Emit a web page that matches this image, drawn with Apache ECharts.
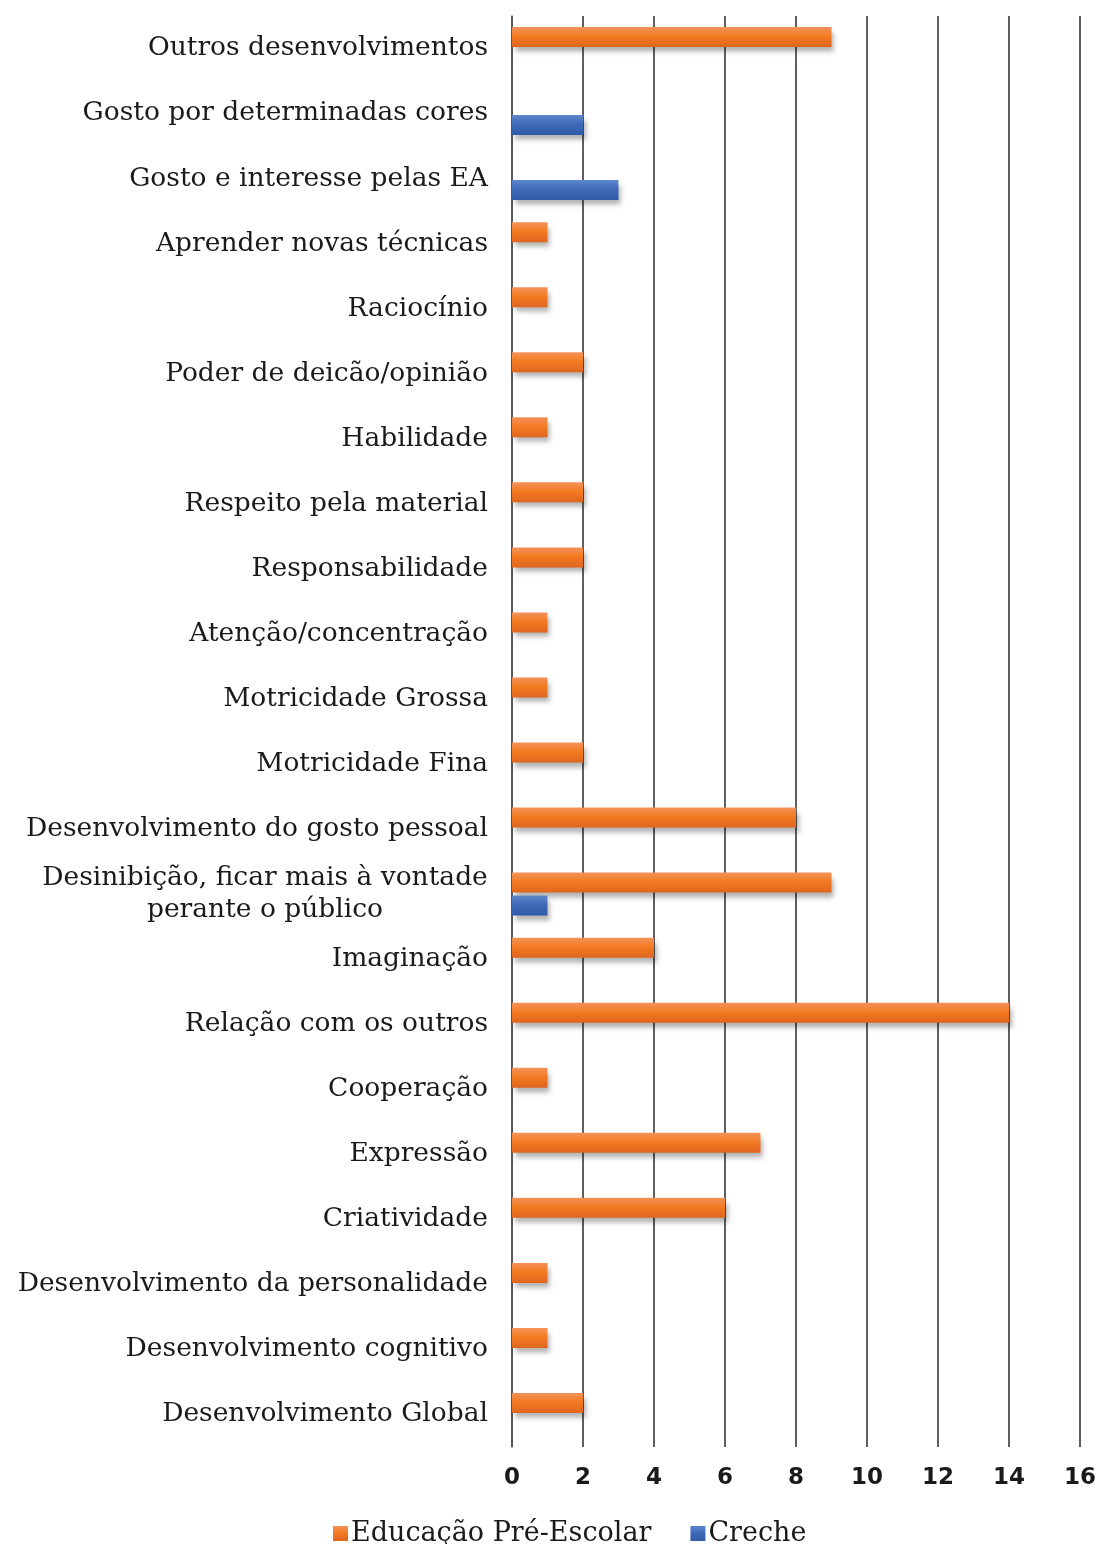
<!DOCTYPE html>
<html>
<head>
<meta charset="utf-8">
<script src="https://cdn.jsdelivr.net/npm/echarts@6/dist/echarts.min.js"></script>
<style>
  html, body { margin: 0; padding: 0; background: #fff; }
  #chart { width: 1099px; height: 1544px; }
</style>
</head>
<body>
<div id="chart"></div>
<script>
// categorias, de cima para baixo
var categorias = [
  'Outros desenvolvimentos',
  'Gosto por determinadas cores',
  'Gosto e interesse pelas EA',
  'Aprender novas técnicas',
  'Raciocínio',
  'Poder de deicão/opinião',
  'Habilidade',
  'Respeito pela material',
  'Responsabilidade',
  'Atenção/concentração',
  'Motricidade Grossa',
  'Motricidade Fina',
  'Desenvolvimento do gosto pessoal',
  'Desinibição, ficar mais à vontade\nperante o público',
  'Imaginação',
  'Relação com os outros',
  'Cooperação',
  'Expressão',
  'Criatividade',
  'Desenvolvimento da personalidade',
  'Desenvolvimento cognitivo',
  'Desenvolvimento Global'
];
var preEscolar = [9, '-', '-', 1, 1, 2, 1, 2, 2, 1, 1, 2, 8, 9, 4, 14, 1, 7, 6, 1, 1, 2];
var creche = ['-', 2, 3, '-', '-', '-', '-', '-', '-', '-', '-', '-', '-', 1, '-', '-', '-', '-', '-', '-', '-', '-'];
var ticksX = { min: 0, max: 16, interval: 2 };

var laranja = new echarts.graphic.LinearGradient(0, 0, 0, 1, [
  { offset: 0, color: '#F2925A' },
  { offset: 0.45, color: '#F47B22' },
  { offset: 1, color: '#DF651E' }
]);
var azul = new echarts.graphic.LinearGradient(0, 0, 0, 1, [
  { offset: 0, color: '#5E87CC' },
  { offset: 0.45, color: '#3F6AB8' },
  { offset: 1, color: '#2F5AA6' }
]);

var sombra = {
  shadowColor: 'rgba(0,0,0,0.3)',
  shadowBlur: 5,
  shadowOffsetX: 3,
  shadowOffsetY: 5
};

var myChart = echarts.init(document.getElementById('chart'));
var option = {
  animation: false,
  backgroundColor: '#fff',
  grid: { left: 512, right: 19, top: 16, bottom: 97 },
  legend: {
    data: ['Educação Pré-Escolar', 'Creche'],
    left: 328,
    top: 1515,
    icon: 'rect',
    itemWidth: 15,
    itemHeight: 15,
    itemGap: 39,
    textStyle: { fontFamily: 'DejaVu Serif', fontSize: 27, color: '#1a1a1a', padding: [0, 0, 0, -2] }
  },
  xAxis: {
    type: 'value',
    min: ticksX.min,
    max: ticksX.max,
    interval: ticksX.interval,
    axisLine: { show: false },
    axisTick: { show: false },
    splitLine: { lineStyle: { color: '#2a2a2a', width: 1.5 } },
    axisLabel: {
      fontFamily: 'DejaVu Sans',
      fontWeight: 'bold',
      fontSize: 23,
      color: '#1a1a1a',
      margin: 20
    }
  },
  yAxis: {
    type: 'category',
    data: categorias,
    inverse: true,
    axisLine: { show: true, lineStyle: { color: '#555', width: 1.5 } },
    axisTick: { show: false },
    axisLabel: {
      margin: 24,
      fontFamily: 'DejaVu Serif',
      fontSize: 26.5,
      color: '#1a1a1a',
      lineHeight: 32,
      formatter: function (v) {
        if (v.indexOf('\n') < 0) return v;
        return v.split('\n').map(function (l) { return '{c|' + l + '}'; }).join('\n');
      },
      rich: {
        c: { width: 446, align: 'center', fontFamily: 'DejaVu Serif', fontSize: 26.5, color: '#1a1a1a', lineHeight: 32 }
      }
    }
  },
  series: [
    {
      name: 'Educação Pré-Escolar',
      type: 'bar',
      data: preEscolar,
      barWidth: 20,
      barGap: '15%',
      itemStyle: Object.assign({ color: laranja }, sombra)
    },
    {
      name: 'Creche',
      type: 'bar',
      data: creche,
      barWidth: 20,
      itemStyle: Object.assign({ color: azul }, sombra)
    }
  ]
};
myChart.setOption(option);
</script>
</body>
</html>
